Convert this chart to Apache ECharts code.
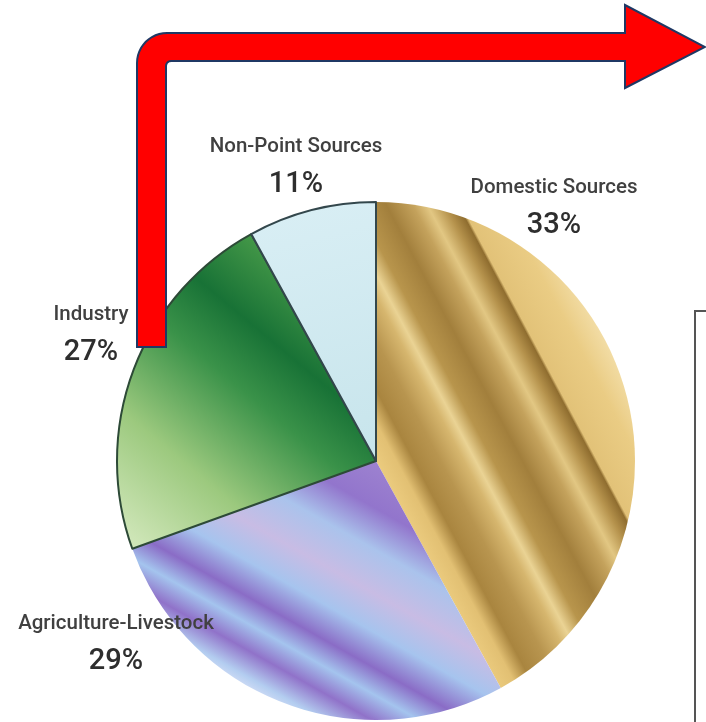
<!DOCTYPE html>
<html><head><meta charset="utf-8">
<script src="https://cdn.jsdelivr.net/npm/echarts@6/dist/echarts.min.js"></script>
<style>html,body{margin:0;padding:0;background:#fff}#c{width:706px;height:722px}</style>
</head><body><div id="c"></div>
<script>
// Slice names, clockwise from 12 o'clock
const categories = ['Domestic Sources', 'Agriculture-Livestock', 'Industry', 'Non-Point Sources'];
// Slice sizes as drawn in the picture (angles)
const sliceValues = [42, 27.5, 22.5, 8];
// Percent texts printed on the chart
const printedPercents = ['33%', '29%', '27%', '11%'];

const CX = 376, CY = 461, R = 259;
const labelPos = [[554, 207], [116, 643], [91, 334], [296, 166]];

function lin(x, y, x2, y2, stops) {
  return { type: 'linear', x: x, y: y, x2: x2, y2: y2, global: true,
    colorStops: stops.map(s => ({ offset: s[0], color: s[1] })) };
}
// Domestic: diagonal gold stripes
const uD = [0.882, -0.470];
const domesticFill = lin(CX, CY, CX + R * uD[0], CY + R * uD[1], [
  [0, '#ebcb7e'], [0.07, '#e2c073'], [0.13, '#a9853f'], [0.22, '#b8954f'],
  [0.30, '#d6b66e'], [0.34, '#ead394'], [0.40, '#b8954c'], [0.50, '#a27f3c'],
  [0.59, '#c4a25c'], [0.64, '#e2c783'], [0.70, '#b5924c'], [0.745, '#8f6d2f'],
  [0.755, '#e2c278'], [0.90, '#eacc84'], [1, '#f2dca4']
]);
// Agriculture: purple / light-blue bands
const nA = [-0.49, 0.871];
const agriFill = lin(CX, CY, CX + R * nA[0], CY + R * nA[1], [
  [0, '#9d82d0'], [0.16, '#9275cc'], [0.30, '#aac3ec'], [0.45, '#c8bce4'],
  [0.58, '#a6c4ee'], [0.70, '#8a6cc6'], [0.79, '#a4c4ee'], [0.88, '#9072c9'],
  [0.97, '#b3cdf0'], [1, '#c8d8f4']
]);
// Industry: light to dark green
const industryFill = lin(130, 540, 330, 300, [
  [0, '#cfe6b8'], [0.3, '#9cc97e'], [0.6, '#3a9249'], [0.78, '#187236'], [1, '#449848']
]);
const nonPointFill = lin(300, 210, 360, 450, [[0, '#d8eef4'], [1, '#c8e5ec']]);

const fills = [domesticFill, agriFill, industryFill, nonPointFill];
const borders = [
  { borderWidth: 0 },
  { borderWidth: 0 },
  { borderWidth: 2, borderColor: '#2d4a37' },
  { borderWidth: 2, borderColor: '#33474c' }
];

const pieData = categories.map((name, i) => ({
  name: name,
  value: sliceValues[i],
  itemStyle: Object.assign({ color: fills[i] }, borders[i])
}));

// Red bent arrow outline
function arrowPoints() {
  const pts = [];
  pts.push([137, 347]);
  const ro = 30, oc = [137 + ro, 33 + ro];
  for (let k = 0; k <= 12; k++) {
    const a = Math.PI + (Math.PI / 2) * k / 12;
    pts.push([oc[0] + ro * Math.cos(a), oc[1] + ro * Math.sin(a)]);
  }
  pts.push([625, 33], [625, 5], [705, 47], [625, 88], [625, 61]);
  const ri = 5, ic = [166 + ri, 61 + ri];
  for (let k = 0; k <= 6; k++) {
    const a = -Math.PI / 2 - (Math.PI / 2) * k / 6;
    pts.push([ic[0] + ri * Math.cos(a), ic[1] + ri * Math.sin(a)]);
  }
  pts.push([166, 347]);
  return pts;
}

const chart = echarts.init(document.getElementById('c'), null, { renderer: 'canvas' });
chart.setOption({
  backgroundColor: '#ffffff',
  animation: false,
  series: [{
    type: 'pie',
    center: [CX, CY],
    radius: R,
    startAngle: 90,
    clockwise: true,
    silent: true,
    avoidLabelOverlap: false,
    data: pieData,
    labelLine: { show: false },
    label: {
      show: true,
      formatter: p => '{n|' + p.name + '}\n{p|' + printedPercents[p.dataIndex] + '}',
      rich: {
        n: { fontFamily: 'Roboto, "Liberation Sans", sans-serif', fontWeight: 500, fontSize: 20.5, color: '#404040', lineHeight: 38, align: 'center' },
        p: { fontFamily: 'Roboto, "Liberation Sans", sans-serif', fontWeight: 500, fontSize: 29, color: '#2e2e2e', lineHeight: 38, align: 'center' }
      }
    },
    labelLayout: function (params) {
      const p = labelPos[params.dataIndex];
      return { x: p[0], y: p[1], align: 'center', verticalAlign: 'middle' };
    }
  }],
  graphic: [
    {
      type: 'polyline', z: 50,
      shape: { points: [[695, 722], [695, 311], [706, 311]] },
      style: { stroke: '#555555', lineWidth: 2, fill: null }
    },
    {
      type: 'polygon', z: 100,
      shape: { points: arrowPoints() },
      style: { fill: '#ff0000', stroke: '#1f3864', lineWidth: 2 }
    }
  ]
});
</script>
</body></html>
